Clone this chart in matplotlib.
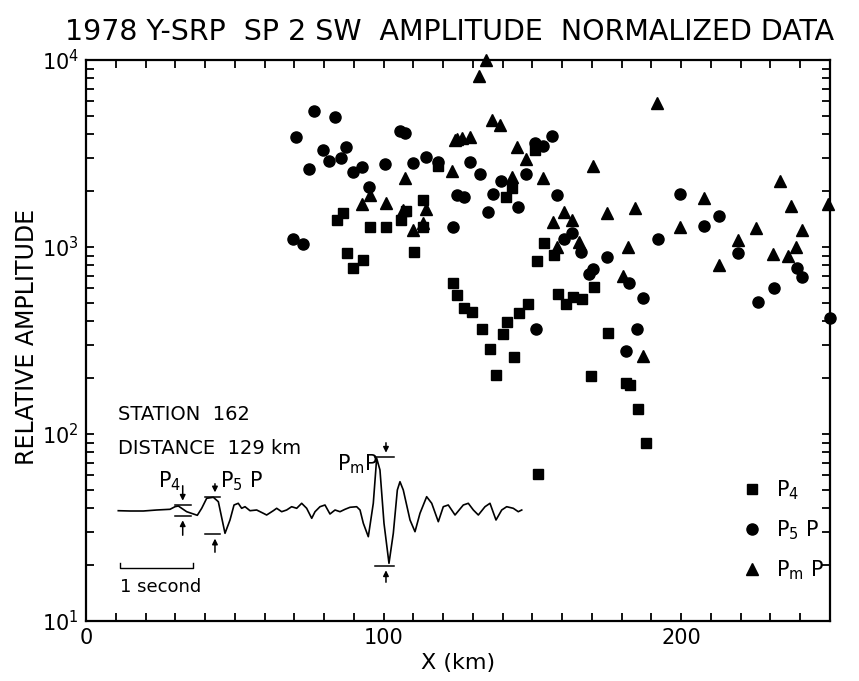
import numpy as np
import matplotlib
matplotlib.use('Agg')
import matplotlib.pyplot as plt
from matplotlib.ticker import MultipleLocator, LogLocator, NullFormatter

# P4 amplitudes (squares)
p4_x = [84.2, 86.2, 95.4, 100.7, 105.7, 107.4, 113.3, 113.3, 87.6, 89.8, 93.0, 110.2,
        123.4, 124.6, 118.4, 150.9, 153.9, 151.4, 157.3, 141.1, 143.0, 127.1, 129.8,
        133.0, 140.0, 141.6, 145.5, 148.4, 158.7, 161.3, 163.7, 166.5, 170.8, 175.5,
        135.8, 137.8, 143.8, 169.6, 181.6, 182.8, 185.4, 188.1, 151.8]
p4_y = [1393, 1515, 1285, 1285, 1393, 1560, 1782, 1285, 925, 769, 851, 944,
        644, 553, 2700, 3305, 1055, 841, 906, 1858, 2062, 470, 451,
        363, 341, 399, 446, 494, 561, 494, 538, 525, 608, 345,
        284, 207, 259, 204, 187, 183, 136, 89, 61]

# P5P amplitudes (circles)
p5p_x = [76.7, 83.7, 70.6, 79.7, 87.3, 81.8, 85.6, 75.0, 89.8, 92.6, 100.5, 105.5,
         107.1, 109.8, 114.1, 118.4, 95.2, 69.7, 72.8, 123.2, 124.6, 156.5, 150.9,
         153.5, 129.0, 132.4, 139.3, 147.8, 127.0, 136.9, 135.2, 145.0, 158.2, 199.6,
         212.8, 207.7, 192.3, 219.2, 160.6, 163.4, 166.2, 175.2, 238.8, 240.5, 170.5,
         169.1, 182.5, 231.2, 225.9, 187.3, 250.0, 151.2, 185.0, 181.6]
p5p_y = [5330, 4970, 3890, 3300, 3410, 2895, 2980, 2625, 2530, 2665, 2780, 4190,
         4080, 2825, 3040, 2860, 2103, 1104, 1038, 1285, 1897, 3935, 3590,
         3470, 2840, 2450, 2265, 2450, 1858, 1920, 1545, 1645, 1897, 1920,
         1470, 1300, 1098, 925, 1098, 1195, 944, 881, 769, 689, 760,
         714, 644, 601, 510, 536, 416, 363, 363, 279]

# PmP amplitudes (triangles)
pmp_x = [124.5, 122.9, 107.2, 95.4, 92.8, 100.7, 114.1, 110.0, 113.3, 106.6, 134.4,
         132.1, 136.3, 139.1, 124.0, 126.5, 129.0, 144.9, 147.8, 143.0, 153.7, 170.5,
         192.0, 233.2, 207.7, 249.2, 236.8, 160.6, 184.5, 174.9, 157.0, 163.4, 199.6,
         225.3, 240.5, 219.2, 165.7, 182.2, 238.6, 230.7, 236.0, 212.8, 180.3, 187.3,
         158.4]
pmp_y = [3770, 2560, 2330, 1897, 1698, 1713, 1592, 1233, 1339, 1577, 10000,
         8240, 4780, 4490, 3730, 3810, 3860, 3440, 2945, 2378, 2330, 2710,
         5910, 2265, 1818, 1690, 1656, 1545, 1611, 1515, 1365, 1393, 1285,
         1260, 1233, 1090, 1068, 1004, 1004, 918, 896, 802, 703, 261,
         995]

# example seismogram, station 162 (time in s, relative amplitude)
trace_t = [0.113, 0.273, 0.455, 0.637, 0.819, 0.887, 0.932, 1.046, 1.191, 1.251, 1.319,
           1.410, 1.478, 1.569, 1.637, 1.692, 1.750, 1.796, 1.842, 1.910, 2.001, 2.092,
           2.137, 2.228, 2.274, 2.342, 2.410, 2.478, 2.547, 2.615, 2.683, 2.752, 2.797,
           2.865, 2.933, 3.001, 3.070, 3.138, 3.206, 3.274, 3.365, 3.411, 3.456, 3.524,
           3.592, 3.638, 3.683, 3.738, 3.806, 3.865, 3.920, 3.956, 4.001, 4.093, 4.161,
           4.229, 4.320, 4.389, 4.479, 4.547, 4.615, 4.707, 4.820, 4.888, 4.957, 5.025,
           5.116, 5.184, 5.266, 5.344, 5.412, 5.502, 5.570, 5.617]
trace_a = [-0.07, -0.1, -0.1, 0.0, 0.07, 0.33, 0.4, -0.17, -0.53, 0.17, 1.17,
           1.27, 0.83, -2.33, -1.0, 0.5, 0.67, 0.17, 0.33, -0.07, 0.0, -0.33,
           -0.5, -0.07, 0.17, -0.17, 0.0, 0.33, 0.17, 0.67, 0.17, -0.83, -0.17,
           0.33, 0.5, -0.4, 0.0, -0.17, 0.07, 0.27, 0.33, 0.0, -1.33, -2.67,
           0.67, 5.17, 4.0, -1.33, -5.33, -2.33, 2.0, 2.83, 2.0, -1.0, -2.17,
           -0.33, 1.33, 0.67, -1.17, 0.33, 0.5, -0.5, 0.5, 0.67, 0.0, -0.5,
           0.33, 0.67, -1.0, 0.0, 0.33, 0.17, -0.17, 0.0]

W, H = 859, 681
fig = plt.figure(figsize=(W / 100, H / 100), dpi=100)
ax = fig.add_axes([86 / W, 1 - 621 / H, 744 / W, 561 / H])

ax.plot(p4_x, p4_y, 's', color='black', ms=7, clip_on=False, label=r'$\mathrm{P_4}$')
ax.plot(p5p_x, p5p_y, 'o', color='black', ms=8, clip_on=False, label=r'$\mathrm{P_5\ P}$')
ax.plot(pmp_x, pmp_y, '^', color='black', ms=8, clip_on=False, label=r'$\mathrm{P_m\ P}$')

ax.set_yscale('log')
ax.set_xlim(0, 250)
ax.set_ylim(10, 1e4)
ax.xaxis.set_major_locator(MultipleLocator(100))
ax.xaxis.set_minor_locator(MultipleLocator(10))
ax.yaxis.set_major_locator(LogLocator(base=10))
ax.yaxis.set_minor_locator(LogLocator(base=10, subs=np.arange(2, 10)))
ax.yaxis.set_minor_formatter(NullFormatter())
ax.tick_params(which='both', direction='in', top=True, right=True, length=6, width=1.3,
               labelsize=15, pad=5)
for s in ax.spines.values():
    s.set_linewidth(1.6)

ax.set_xlabel('X (km)', fontsize=16, labelpad=4)
fig.text(27 / W, 1 - 337 / H, 'RELATIVE AMPLITUDE', rotation=90, fontsize=17,
         ha='center', va='center')
fig.text(450 / W, 1 - 32 / H, '1978 Y-SRP  SP 2 SW  AMPLITUDE  NORMALIZED DATA',
         fontsize=20.5, ha='center', va='center')

ax.legend(loc='upper left', bbox_to_anchor=(742 / W, 1 - 478 / H),
          bbox_transform=fig.transFigure, frameon=False, fontsize=15,
          handlelength=1.0, handletextpad=0.65, labelspacing=0.8,
          borderpad=0, borderaxespad=0)

# inset trace
ins = fig.add_axes([110 / W, 1 - 600 / H, 420 / W, 160 / H])
ins.set_xlim(0, 420 / 73.3)
ins.set_ylim(-9, 7)
ins.axis('off')
ins.patch.set_alpha(0)
ins.plot(trace_t, trace_a, color='black', lw=1.2)

ins.text(0.109, 9.5, 'STATION  162', fontsize=14, va='center', ha='left')
ins.text(0.109, 6.15, 'DISTANCE  129 km', fontsize=14, va='center', ha='left')

arrow = dict(arrowstyle='-|>', color='black', lw=1.1, mutation_scale=8)
def mark(t0, t1, ytop, ybot, tx, ttop, tbot):
    ins.plot([t0, t1], [ytop, ytop], color='black', lw=1.1)
    ins.plot([t0, t1], [ybot, ybot], color='black', lw=1.1)
    ins.annotate('', xy=(tx, ytop + 0.15), xytext=(tx, ttop), arrowprops=arrow)
    ins.annotate('', xy=(tx, ybot - 0.15), xytext=(tx, tbot), arrowprops=arrow)

mark(0.89, 1.10, 0.5, -0.6, 0.992, 2.7, -2.8)
mark(1.296, 1.50, 1.33, -2.43, 1.432, 2.9, -4.5)
mark(3.615, 3.88, 5.3, -5.6, 3.765, 7.0, -7.5)

ins.text(0.655, 2.3, r'$\mathrm{P_4}$', fontsize=15, ha='left', va='baseline')
ins.text(1.50, 2.3, r'$\mathrm{P_5\ P}$', fontsize=15, ha='left', va='baseline')
ins.text(3.097, 4.0, r'$\mathrm{P_m P}$', fontsize=15, ha='left', va='baseline')

# 1 second scale bar
ins.plot([0.136, 0.136, 1.136, 1.136], [-5.3, -5.8, -5.8, -5.3], color='black', lw=1.0)
ins.text(0.136, -7.7, '1 second', fontsize=13, ha='left', va='center')

fig.savefig('out.png', dpi=100)
